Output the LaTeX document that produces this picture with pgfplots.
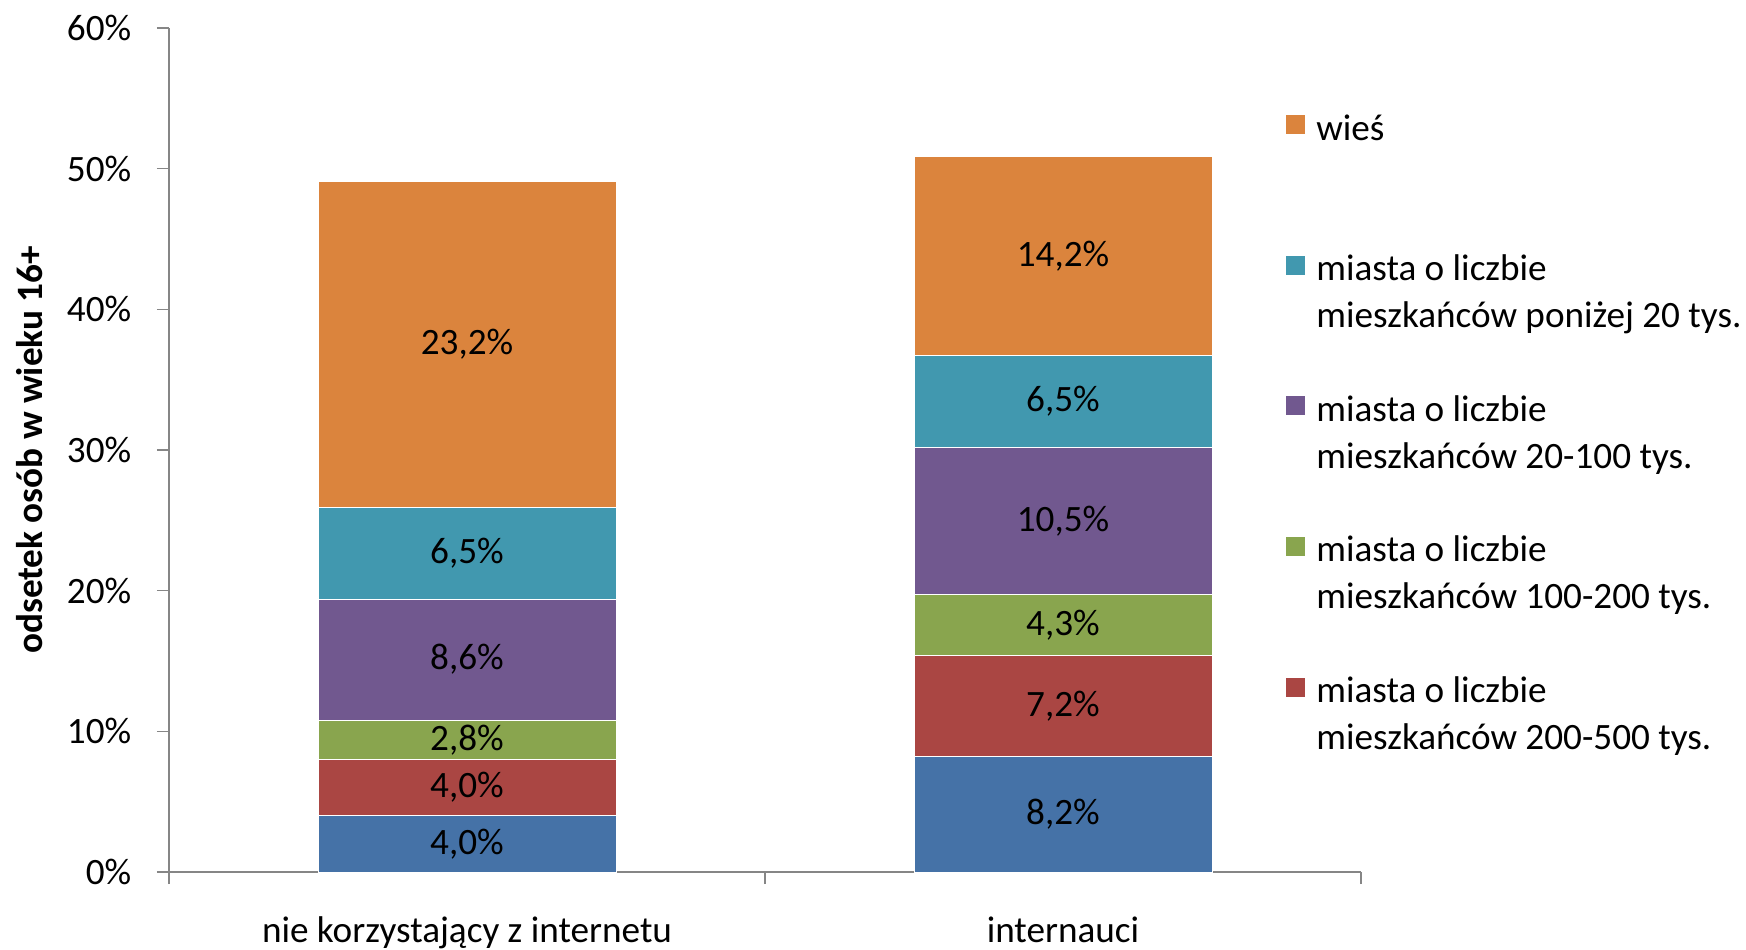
\documentclass[border=0pt]{standalone}
\usepackage{fontspec}
\setmainfont{Carlito}
\usepackage{pgfplots}
\pgfplotsset{compat=1.18}
\definecolor{cblue}{HTML}{4572A7}
\definecolor{cred}{HTML}{AA4643}
\definecolor{cgreen}{HTML}{89A54E}
\definecolor{cpurple}{HTML}{71588F}
\definecolor{cteal}{HTML}{4198AF}
\definecolor{corange}{HTML}{DB843D}
\definecolor{axisgray}{HTML}{868686}
\begin{document}
\fontsize{18.6}{23.5}\selectfont
\begin{tikzpicture}[font=\fontsize{18.6}{23.5}\selectfont]
\useasboundingbox (0,0) rectangle (873pt,474.5pt);
\begin{axis}[
  at={(84.5pt,38.5pt)}, anchor=south west,
  scale only axis, width=596pt, height=422pt,
  xmin=-0.5, xmax=1.5, ymin=0, ymax=60,
  ybar stacked, bar width=149pt,
  axis x line*=bottom, axis y line*=left,
  axis line style={draw=axisgray, line width=0.8pt},
  /pgf/number format/assume math mode=true,
  tick align=outside, major tick length=6pt,
  tick style={draw=axisgray, line width=0.8pt},
  xtick={-0.5,0.5,1.5}, xticklabels={},
  extra x ticks={0,1},
  extra x tick labels={nie korzystający z internetu, internauci},
  extra x tick style={major tick length=0pt, tick style={draw=none}},
  xticklabel style={yshift=-16pt},
  ytick={0,10,...,60},
  yticklabel={\pgfmathprintnumber{\tick}\%},
  yticklabel style={xshift=-6.5pt},
  ylabel={\bfseries odsetek osób w wieku 16+},
  ylabel style={at={(axis description cs:-0.117,0.5)}, anchor=center},
  reverse legend,
  legend cell align=left,
  legend style={at={(axis description cs:0.937,0.898)}, anchor=north west,
    draw=none, fill=none, inner sep=0pt, row sep=31.1pt,
    nodes={align=left, inner sep=0pt, font=\fontsize{18.6}{23.5}\selectfont},
    /tikz/every odd column/.append style={column sep=5.5pt}},
  legend image code/.code={\path[#1,draw=none] (0pt,9.6pt) rectangle (9.5pt,19.1pt);},
]
\addplot[fill=cblue, draw=white, line width=0.4pt, forget plot] coordinates {(0,4.0) (1,8.2)};
\addplot[fill=cred, draw=white, line width=0.4pt] coordinates {(0,4.0) (1,7.2)};
\addlegendentry{miasta o liczbie\\mieszkańców 200-500 tys.}
\addplot[fill=cgreen, draw=white, line width=0.4pt] coordinates {(0,2.8) (1,4.3)};
\addlegendentry{miasta o liczbie\\mieszkańców 100-200 tys.}
\addplot[fill=cpurple, draw=white, line width=0.4pt] coordinates {(0,8.6) (1,10.5)};
\addlegendentry{miasta o liczbie\\mieszkańców 20-100 tys.}
\addplot[fill=cteal, draw=white, line width=0.4pt] coordinates {(0,6.5) (1,6.5)};
\addlegendentry{miasta o liczbie\\mieszkańców poniżej 20 tys.}
\addplot[fill=corange, draw=white, line width=0.4pt] coordinates {(0,23.2) (1,14.2)};
\addlegendentry{wieś\\\mbox{}}
\end{axis}
\begin{axis}[
  at={(84.5pt,38.5pt)}, anchor=south west,
  scale only axis, width=596pt, height=422pt,
  xmin=-0.5, xmax=1.5, ymin=0, ymax=60,
  hide axis,
]
\addplot[draw=none, mark=none, nodes near coords, point meta=explicit symbolic,
  every node near coord/.style={anchor=center, text=black, font=\fontsize{18.6}{23.5}\selectfont}]
  coordinates {
  (0,2.0) [4,0\%] (0,6.0) [4,0\%] (0,9.4) [2,8\%] (0,15.1) [8,6\%] (0,22.65) [6,5\%] (0,37.5) [23,2\%]
  (1,4.1) [8,2\%] (1,11.8) [7,2\%] (1,17.55) [4,3\%] (1,24.95) [10,5\%] (1,33.45) [6,5\%] (1,43.8) [14,2\%]
  };
\end{axis}
\end{tikzpicture}
\end{document}
